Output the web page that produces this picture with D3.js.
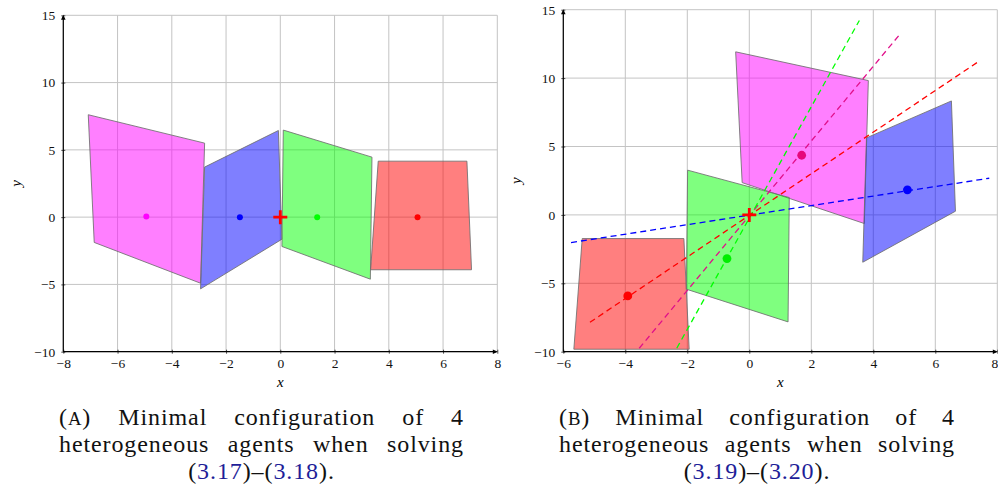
<!DOCTYPE html>
<html>
<head>
<meta charset="utf-8">
<script src="https://cdn.jsdelivr.net/npm/d3@7"></script>
<style>
  html, body { margin: 0; padding: 0; background: #fff; }
  svg { display: block; }
</style>
</head>
<body>
<svg id="fig" width="998" height="491"></svg>
<script>
// ---- data -------------------------------------------------------------
// agent order: magenta, blue, green, red
const agentColors = ["#ff00ff", "#0000ff", "#00ff00", "#ff0000"];

// (a) cells (quadrilateral regions) and agent positions
const cellsA = [
  [[-7.08, 7.61], [-2.79, 5.50], [-2.94, -4.91], [-6.86, -1.88]],
  [[-2.79, 3.72], [-0.07, 6.44], [0.06, -1.64], [-2.94, -5.33]],
  [[0.11, 6.47], [3.38, 4.46], [3.32, -4.61], [0.06, -2.18]],
  [[3.61, 4.16], [6.88, 4.16], [7.05, -3.91], [3.33, -3.91]]
];
const positionsA = [[-4.94, 0.05], [-1.49, 0], [1.36, 0], [5.06, 0]];

// (b) cells, agent positions and the dashed lines through the target
const cellsB = [
  [[-0.44, 11.92], [3.84, 9.82], [3.71, -0.63], [-0.23, 2.36]],
  [[3.78, 5.63], [6.52, 8.33], [6.65, 0.27], [3.66, -3.46]],
  [[-1.99, 3.27], [1.29, 1.27], [1.25, -7.82], [-2.03, -5.43]],
  [[-5.39, -1.73], [-2.11, -1.73], [-1.94, -9.82], [-5.66, -9.82]]
];
const positionsB = [[1.69, 4.36], [5.10, 1.83], [-0.72, -3.19], [-3.92, -5.92]];
const raysB = [
  [[-3.55, -9.75], [4.86, 13.21]],
  [[-5.75, -2.02], [7.74, 2.68]],
  [[-2.34, -9.75], [3.55, 14.21]],
  [[-5.14, -7.85], [7.44, 11.28]]
];
const rayColorsB = ["#e0108a", "#0000ff", "#00ff00", "#ff0000"];
const dotColorsB = ["#e6097c", "#0000ff", "#00ee00", "#ff0000"];

const target = [0, 0];

// axis ticks
const xTicksA = [-8, -6, -4, -2, 0, 2, 4, 6, 8];
const xTicksB = [-6, -4, -2, 0, 2, 4, 6, 8];
const yTicks = [-10, -5, 0, 5, 10, 15];

// caption text
const captionA = {
  label: "A",
  line1: ["Minimal", "configuration", "of", "4"],
  line2: ["heterogeneous", "agents", "when", "solving"],
  refs: ["3.17", "3.18"]
};
const captionB = {
  label: "B",
  line1: ["Minimal", "configuration", "of", "4"],
  line2: ["heterogeneous", "agents", "when", "solving"],
  refs: ["3.19", "3.20"]
};

// ---- drawing ----------------------------------------------------------
const svg = d3.select("#fig");
const serif = "Liberation Serif";

function drawPanel(p) {
  const x = d3.scaleLinear().domain(p.xDomain).range(p.xRange);
  const y = d3.scaleLinear().domain([-10, 15]).range(p.yRange);
  const g = svg.append("g");
  const [x0, x1] = p.xRange;
  const [y0, y1] = p.yRange;

  // grid
  g.append("g").selectAll("line").data(p.xTicks).join("line")
    .attr("x1", d => x(d)).attr("x2", d => x(d))
    .attr("y1", y0).attr("y2", y1)
    .attr("stroke", "#c4c4c4").attr("stroke-width", 1);
  g.append("g").selectAll("line").data(yTicks).join("line")
    .attr("x1", x0).attr("x2", x1)
    .attr("y1", d => y(d)).attr("y2", d => y(d))
    .attr("stroke", "#c4c4c4").attr("stroke-width", 1);

  // cells
  const poly = d3.line().x(d => x(d[0])).y(d => y(d[1]));
  g.append("g").selectAll("path").data(p.cells).join("path")
    .attr("d", d => poly(d) + "Z")
    .attr("fill", (d, i) => agentColors[i])
    .attr("fill-opacity", 0.5)
    .attr("stroke", "#6e6e6e")
    .attr("stroke-opacity", 0.85)
    .attr("stroke-width", 1);

  // dashed lines
  if (p.rays) {
    g.append("g").selectAll("path").data(p.rays).join("path")
      .attr("d", d => poly(d))
      .attr("fill", "none")
      .attr("stroke", (d, i) => p.rayColors[i])
      .attr("stroke-width", 1.3)
      .attr("stroke-dasharray", "6,4");
  }

  // agent positions
  g.append("g").selectAll("circle").data(p.positions).join("circle")
    .attr("cx", d => x(d[0])).attr("cy", d => y(d[1]))
    .attr("r", p.dotR)
    .attr("fill", (d, i) => p.dotColors[i]);

  // target marker
  const tx = x(target[0]), ty = y(target[1]);
  g.append("path")
    .attr("d", `M${tx - 7},${ty}H${tx + 7}M${tx},${ty - 7}V${ty + 7}`)
    .attr("stroke", "#ff0000").attr("stroke-width", 2.8);

  // axes
  const ax = g.append("g").attr("transform", `translate(0,${y0})`)
    .call(d3.axisBottom(x).tickValues(p.xTicks).tickSizeInner(2).tickSizeOuter(0).tickPadding(5));
  const ay = g.append("g").attr("transform", `translate(${x0},0)`)
    .call(d3.axisLeft(y).tickValues(yTicks).tickSizeInner(2).tickSizeOuter(0).tickPadding(6));
  [ax, ay].forEach(a => {
    a.select(".domain").remove();
    a.attr("font-family", serif).attr("font-size", 13.5);
    a.selectAll(".tick text").attr("fill", "#111");
    a.selectAll(".tick line").attr("stroke", "#222").attr("stroke-width", 0.8);
  });
  ax.selectAll(".tick line").attr("y1", -2);
  ay.selectAll(".tick line").attr("x1", 2);
  // keep the last x label inside the page
  if (x1 > 990) ax.selectAll(".tick:last-child text").attr("dx", -3);

  // axis lines with arrow tips
  g.append("line").attr("x1", x0).attr("x2", x1 - 1).attr("y1", y0).attr("y2", y0)
    .attr("stroke", "#000").attr("stroke-width", 1.2);
  g.append("line").attr("x1", x0).attr("x2", x0).attr("y1", y0).attr("y2", y1 + 1)
    .attr("stroke", "#000").attr("stroke-width", 1.2);
  g.append("path").attr("d", `M${x1 + 0.5},${y0}L${x1 - 4.5},${y0 - 2.3}L${x1 - 4.5},${y0 + 2.3}Z`)
    .attr("fill", "#000");
  g.append("path").attr("d", `M${x0},${y1 - 0.5}L${x0 - 2.3},${y1 + 4.5}L${x0 + 2.3},${y1 + 4.5}Z`)
    .attr("fill", "#000");

  // axis titles
  g.append("text").attr("font-family", serif).attr("x", (x0 + x1) / 2).attr("y", 387)
    .attr("text-anchor", "middle")
    .attr("font-style", "italic").attr("font-size", 15).text("x");
  g.append("text").attr("font-family", serif)
    .attr("transform", `translate(${x0 - 47},${(y0 + y1) / 2}) rotate(-90)`)
    .attr("text-anchor", "middle").attr("dy", "0.3em")
    .attr("font-style", "italic").attr("font-size", 15).text("y");
}

drawPanel({
  xDomain: [-8, 8], xRange: [63.3, 497.3], yRange: [351.7, 15.3],
  xTicks: xTicksA, cells: cellsA, positions: positionsA,
  dotColors: agentColors, dotR: 3
});
drawPanel({
  xDomain: [-6, 8], xRange: [563.3, 997.3], yRange: [351.7, 9.7],
  xTicks: xTicksB, cells: cellsB, positions: positionsB,
  dotColors: dotColorsB, dotR: 4.4,
  rays: raysB, rayColors: rayColorsB
});

// ---- captions ---------------------------------------------------------
const capSize = 24;
const refBlue = "#1e1e98";

function addWord(g, parts) {
  const t = g.append("text").attr("font-family", serif).attr("font-size", capSize)
    .attr("letter-spacing", 0.9).attr("fill", "#111");
  parts.forEach(pt => {
    const s = t.append("tspan").text(pt.text);
    if (pt.small) s.attr("font-size", capSize * 0.78);
    if (pt.color) s.attr("fill", pt.color);
  });
  return t;
}

function justifyLine(g, words, left, right, baseline) {
  const nodes = words.map(w => addWord(g, w));
  const widths = nodes.map(n => n.node().getComputedTextLength());
  const total = d3.sum(widths);
  const gap = (right - left - total) / (nodes.length - 1);
  let cx = left;
  nodes.forEach((n, i) => {
    n.attr("x", cx).attr("y", baseline);
    cx += widths[i] + gap;
  });
}

function drawCaption(c, left, right) {
  const g = svg.append("g");
  const w = s => [{ text: s }];
  justifyLine(g, [[{ text: "(" }, { text: c.label, small: true }, { text: ")" }]].concat(c.line1.map(w)),
    left, right, 425);
  justifyLine(g, c.line2.map(w), left, right, 452);
  const t = addWord(g, [
    { text: "(" }, { text: c.refs[0], color: refBlue }, { text: ")–(" },
    { text: c.refs[1], color: refBlue }, { text: ")." }
  ]);
  t.attr("x", (left + right) / 2).attr("y", 479).attr("text-anchor", "middle");
}

drawCaption(captionA, 59, 464);
drawCaption(captionB, 559, 955);
</script>
</body>
</html>
